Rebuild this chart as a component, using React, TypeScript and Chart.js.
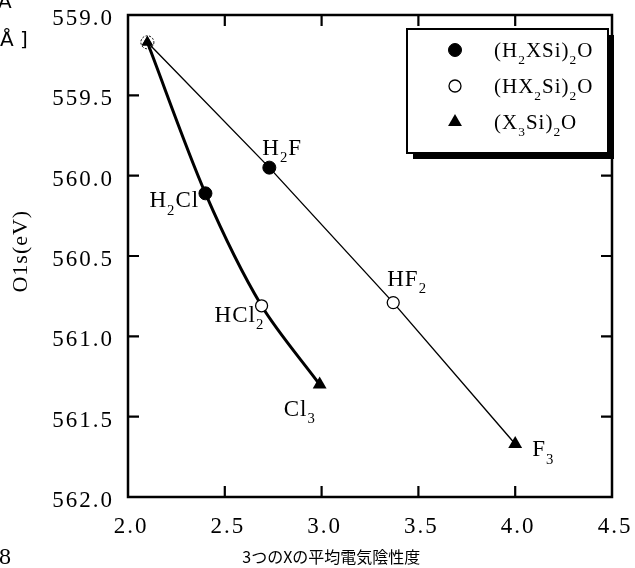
import React, { useEffect, useRef } from "react";
import { Chart, registerables } from "chart.js";

Chart.register(...registerables);

// ---- data ----
const xMin = 2.0;
const xMax = 4.5;
const yMin = 559.0;
const yMax = 562.0;
const tickStep = 0.5;

const clX = [2.1, 2.4, 2.69, 2.99];
const clY = [559.17, 560.11, 560.81, 561.3];
const clNames = ["", "H_2Cl", "HCl_2", "Cl_3"];

const fX = [2.1, 2.73, 3.37, 4.0];
const fY = [559.17, 559.95, 560.79, 561.67];
const fNames = ["", "H_2F", "HF_2", "F_3"];

// which legend series each point belongs to (-1 = common origin)
const pointSeries = [-1, 0, 1, 2];
const legendNames = ["(H_2XSi)_2O", "(HX_2Si)_2O", "(X_3Si)_2O"];

const xTitle = "3つのXの平均電気陰性度";
const yTitle = "O1s(eV)";
const strayTexts = ["A", "Å ]", "8"];

// ---- styling helpers ----
const SERIF = "'Liberation Serif', 'Times New Roman', serif";

const styleFor = (s: number) => {
  if (s === 0) return { style: "circle", bg: "#000", r: 6.5, bw: 1 };
  if (s === 1) return { style: "circle", bg: "#fff", r: 6, bw: 1.3 };
  if (s === 2) return { style: "triangle", bg: "#000", r: 8, bw: 0 };
  return { style: "triangle", bg: "#000", r: 6.5, bw: 0 };
};

function drawRich(ctx: CanvasRenderingContext2D, text: string, x: number, y: number, size: number) {
  const segs: { t: string; sub: boolean }[] = [];
  for (let i = 0; i < text.length; i++) {
    if (text[i] === "_") {
      segs.push({ t: text[i + 1], sub: true });
      i++;
    } else {
      const last = segs[segs.length - 1];
      if (last && !last.sub) last.t += text[i];
      else segs.push({ t: text[i], sub: false });
    }
  }
  let cx = x;
  ctx.textAlign = "left";
  ctx.textBaseline = "alphabetic";
  for (const s of segs) {
    const sz = s.sub ? size * 0.64 : size;
    ctx.font = `${sz}px ${SERIF}`;
    ctx.fillText(s.t, cx, s.sub ? y + size * 0.33 : y);
    cx += ctx.measureText(s.t).width;
  }
}

const labelOffsets: Record<string, [number, number]> = {
  H_2Cl: [-56, 14],
  HCl_2: [-47, 16],
  Cl_3: [-36, 31],
  H_2F: [-7, -13],
  HF_2: [-6, -17],
  F_3: [17, 12],
};

const framePlugin = {
  id: "frame",
  beforeDraw(chart: any) {
    const ctx = chart.ctx as CanvasRenderingContext2D;
    (ctx as any).letterSpacing = "2px";
  },
  beforeDatasetsDraw(chart: any) {
    const ctx = chart.ctx as CanvasRenderingContext2D;
    (ctx as any).letterSpacing = "0px";
    const { left, right, top, bottom } = chart.chartArea;
    const xs = chart.scales.x;
    const ys = chart.scales.y;
    ctx.save();
    ctx.strokeStyle = "#000";
    ctx.lineWidth = 2.5;
    ctx.strokeRect(left, top, right - left, bottom - top);
    ctx.lineWidth = 2.2;
    const tl = 11;
    ctx.beginPath();
    xs.ticks.forEach((t: any) => {
      if (t.value <= xMin || t.value >= xMax) return;
      const px = xs.getPixelForValue(t.value);
      ctx.moveTo(px, bottom);
      ctx.lineTo(px, bottom - tl);
      ctx.moveTo(px, top);
      ctx.lineTo(px, top + tl);
    });
    ys.ticks.forEach((t: any) => {
      if (t.value <= yMin || t.value >= yMax) return;
      const py = ys.getPixelForValue(t.value);
      ctx.moveTo(left, py);
      ctx.lineTo(left + tl, py);
      ctx.moveTo(right, py);
      ctx.lineTo(right - tl, py);
    });
    ctx.stroke();
    ctx.restore();
  },
  afterDatasetsDraw(chart: any) {
    const ctx = chart.ctx as CanvasRenderingContext2D;
    const xs = chart.scales.x;
    const ys = chart.scales.y;
    ctx.save();
    ctx.fillStyle = "#000";
    (ctx as any).letterSpacing = "1px";
    // origin marker: open circle around triangle
    const ox = xs.getPixelForValue(clX[0]);
    const oy = ys.getPixelForValue(clY[0]);
    ctx.beginPath();
    ctx.arc(ox, oy, 6.5, 0, Math.PI * 2);
    ctx.lineWidth = 1;
    ctx.setLineDash([2, 1.5]);
    ctx.strokeStyle = "#000";
    ctx.stroke();
    ctx.setLineDash([]);

    const lbl = (xv: number[], yv: number[], names: string[]) => {
      names.forEach((n, i) => {
        if (!n) return;
        const off = labelOffsets[n] || [6, -8];
        drawRich(ctx, n, xs.getPixelForValue(xv[i]) + off[0], ys.getPixelForValue(yv[i]) + off[1], 23);
      });
    };
    lbl(clX, clY, clNames);
    lbl(fX, fY, fNames);

    // legend box
    const bx = chart.chartArea.right - 205;
    const by = chart.chartArea.top + 14;
    const bw = 201;
    const bh = 124;
    ctx.fillStyle = "#000";
    ctx.fillRect(bx + 6, by + 6, bw, bh);
    ctx.fillStyle = "#fff";
    ctx.fillRect(bx, by, bw, bh);
    ctx.strokeStyle = "#000";
    ctx.lineWidth = 2;
    ctx.strokeRect(bx, by, bw, bh);
    legendNames.forEach((name, i) => {
      const my = by + 21 + i * 36;
      const mx = bx + 48;
      const st = styleFor(i);
      ctx.fillStyle = st.bg;
      ctx.strokeStyle = "#000";
      ctx.lineWidth = st.bw;
      ctx.beginPath();
      if (st.style === "circle") {
        ctx.arc(mx, my, st.r, 0, Math.PI * 2);
        ctx.fill();
        ctx.stroke();
      } else {
        const r = st.r;
        ctx.moveTo(mx, my - r);
        ctx.lineTo(mx + r * 0.866, my + r * 0.5);
        ctx.lineTo(mx - r * 0.866, my + r * 0.5);
        ctx.closePath();
        ctx.fill();
      }
      ctx.fillStyle = "#000";
      drawRich(ctx, name, bx + 87, my + 7, 21);
    });
    ctx.restore();
  },
  afterDraw(chart: any) {
    const ctx = chart.ctx as CanvasRenderingContext2D;
    ctx.save();
    (ctx as any).letterSpacing = "0px";
    ctx.fillStyle = "#000";
    ctx.textAlign = "left";
    ctx.textBaseline = "alphabetic";
    ctx.font = "20px 'DejaVu Sans', sans-serif";
    ctx.fillText(strayTexts[0], -2, 8);
    ctx.fillText(strayTexts[1], 0, 46);
    ctx.font = `24px ${SERIF}`;
    ctx.fillText(strayTexts[2], -1, 564);

    // axis titles
    const area = chart.chartArea;
    ctx.textAlign = "center";
    ctx.textBaseline = "middle";
    ctx.font = "16px 'Noto Sans CJK JP', sans-serif";
    ctx.fillText(xTitle, area.left + (area.right - area.left) * 0.42, 557);
    ctx.save();
    ctx.translate(21, area.top + (area.bottom - area.top) * 0.49);
    ctx.rotate(-Math.PI / 2);
    (ctx as any).letterSpacing = "1px";
    ctx.font = `22px ${SERIF}`;
    ctx.fillText(yTitle, 0, 0);
    ctx.restore();
    ctx.restore();
  },
};

export default function App() {
  const ref = useRef<HTMLCanvasElement | null>(null);
  useEffect(() => {
    if (!ref.current) return;
    const pts = (xv: number[], yv: number[]) => xv.map((x, i) => ({ x, y: yv[i] }));
    const styles = pointSeries.map(styleFor);
    const chart = new Chart(ref.current, {
      type: "scatter",
      data: {
        datasets: [
          {
            data: pts(clX, clY),
            showLine: true,
            borderColor: "#000",
            borderWidth: 3,
            tension: 0.3,
            pointStyle: styles.map((s) => s.style) as any,
            pointBackgroundColor: styles.map((s) => s.bg),
            pointBorderColor: "#000",
            pointBorderWidth: styles.map((s) => s.bw),
            pointRadius: styles.map((s) => s.r),
          },
          {
            data: pts(fX, fY),
            showLine: true,
            borderColor: "#000",
            borderWidth: 1.4,
            tension: 0,
            pointStyle: styles.map((s) => s.style) as any,
            pointBackgroundColor: styles.map((s) => s.bg),
            pointBorderColor: "#000",
            pointBorderWidth: styles.map((s) => s.bw),
            pointRadius: styles.map((s) => s.r),
          },
        ],
      },
      options: {
        animation: false,
        responsive: true,
        maintainAspectRatio: false,
        layout: { padding: { top: 15, right: 23, left: 0, bottom: 0 } },
        plugins: { legend: { display: false }, tooltip: { enabled: false } },
        scales: {
          x: {
            type: "linear",
            min: xMin,
            max: xMax,
            grid: { display: false, drawTicks: false },
            border: { display: false },
            ticks: {
              stepSize: tickStep,
              color: "#000",
              font: { family: SERIF, size: 23 },
              padding: 16,
              labelOffset: 3,
              maxRotation: 0,
              callback: (v: any) => Number(v).toFixed(1),
            },
            afterFit: (s: any) => {
              s.height = 71;
              s.paddingLeft = 0;
              s.paddingRight = 0;
              s.paddingTop = 0;
              s.paddingBottom = 0;
            },
          },
          y: {
            type: "linear",
            reverse: true,
            min: yMin,
            max: yMax,
            grid: { display: false, drawTicks: false },
            border: { display: false },
            ticks: {
              stepSize: tickStep,
              color: "#000",
              font: { family: SERIF, size: 23 },
              padding: 14,
              labelOffset: 4,
              callback: (v: any) => Number(v).toFixed(1),
            },
            afterFit: (s: any) => {
              s.width = 128;
              s.paddingLeft = 0;
              s.paddingRight = 0;
              s.paddingTop = 0;
              s.paddingBottom = 0;
            },
          },
        },
      },
      plugins: [framePlugin],
    });
    return () => chart.destroy();
  }, []);
  return (
    <div style={{ position: "fixed", left: 0, top: 0, width: 635, height: 568, background: "#fff" }}>
      <canvas ref={ref} />
    </div>
  );
}
